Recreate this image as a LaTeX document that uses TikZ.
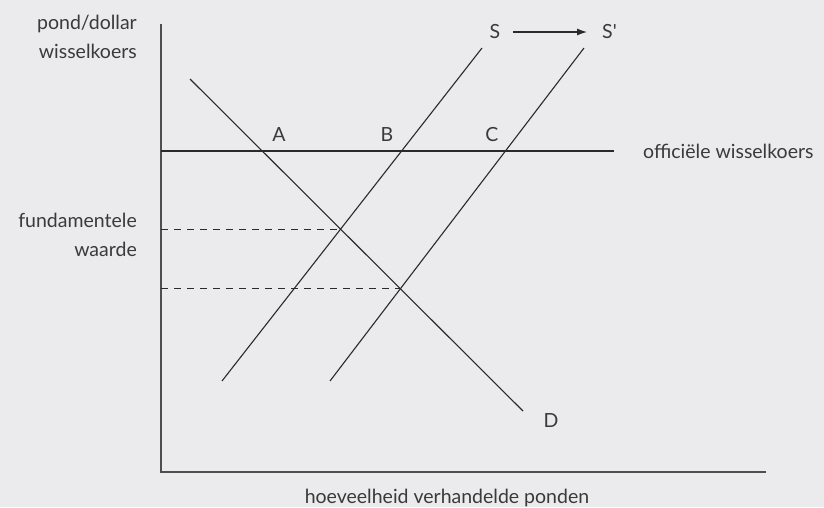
\documentclass[tikz,border=0pt]{standalone}
\usepackage{fontspec}
\setmainfont{Lato}
\usepackage{xcolor}
\usetikzlibrary{arrows.meta, positioning, calc}
\definecolor{wkback}{HTML}{EBEBED}
\definecolor{wkink}{HTML}{2A2A2A}
\definecolor{wkaxis}{HTML}{4E4E4E}
\definecolor{wktext}{HTML}{3A3A3A}

\begin{document}
\begin{tikzpicture}[
  x=1pt, y=-1pt,
  lbl/.style={text=wktext, font=\fontsize{19.5}{29}\selectfont, inner sep=0pt},
  axis/.style={draw=wkaxis, line width=1.7pt},
  curve/.style={draw=wkink, line width=1.1pt},
  guide/.style={draw=wkink, line width=1pt, dash pattern=on 7pt off 6pt},
  arr/.style={-{Latex[length=10pt,width=7pt]}, draw=wkink, line width=1.1pt}
]
\fill[wkback] (0,0) rectangle (824,507);
\useasboundingbox (0,0) rectangle (824,507);

% axes
\coordinate (top) at (161,24);
\coordinate (origin) at (161,472);
\coordinate (right) at (766,472);
\draw[axis] (top) -- (origin) -- (right);

% official rate, demand and both supply lines
\coordinate (k1) at (161,151);
\coordinate (k2) at (614,151);
\coordinate (d1) at (190,79);
\coordinate (d2) at (523,411);
\coordinate (s1) at (222,381);
\coordinate (s2) at (482,48);
\coordinate (t1) at (330,381);
\coordinate (t2) at (584,48);
\draw[curve] (k1) -- (k2);
\draw[curve] (d1) -- (d2);
\draw[curve] (s1) -- (s2);
\draw[curve] (t1) -- (t2);

% equilibria
\coordinate (e1) at (intersection of d1--d2 and s1--s2);
\coordinate (e2) at (intersection of d1--d2 and t1--t2);
\draw[guide] (e1 -| origin) -- (e1);
\draw[guide] (e2 -| origin) -- (e2);

% labels
\node[lbl, anchor=base] (A) at (279,141) {A};
\node[lbl, anchor=base] (B) at (387,141) {B};
\node[lbl, anchor=base] (C) at (492,141) {C};
\node[lbl, anchor=base] (D) at (551,427) {D};
\node[lbl, anchor=base] (S) at (495,38) {S};
\node[lbl, anchor=base west] (S') at (602,38) {S\textquotesingle};
\coordinate (a1) at (513,32);
\coordinate (a2) at (587,32);
\draw[arr] (a1) -- (a2);
\node[lbl, anchor=west] (rate) at (643,151) {officiële wisselkoers};
\node[lbl, anchor=base east, align=right] (yaxis) at (137,58) {pond/dollar\\wisselkoers};
\node[lbl, anchor=base east, align=right] (fund) at (137,256) {fundamentele\\waarde};
\node[lbl, anchor=base] (xaxis) at (447,503) {hoeveelheid verhandelde ponden};
\end{tikzpicture}
\end{document}
